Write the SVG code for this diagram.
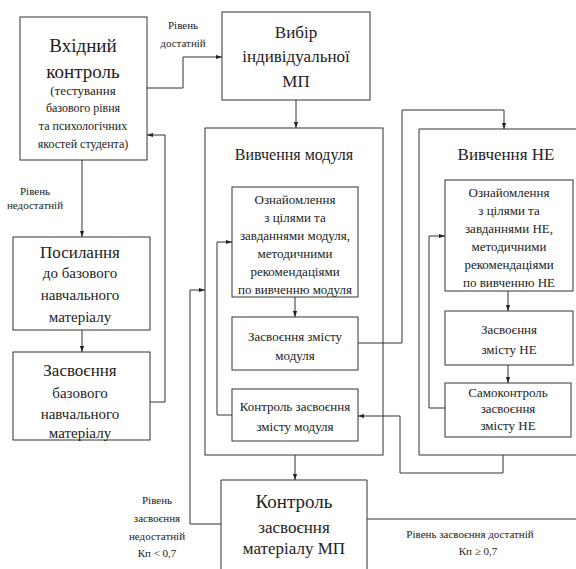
<svg xmlns="http://www.w3.org/2000/svg" width="576" height="569" viewBox="0 0 576 569" font-family="'Liberation Serif','DejaVu Serif','Times New Roman',serif">
<style>
.b{fill:none;stroke:#333;stroke-width:1}
.c{fill:none;stroke:#333;stroke-width:1}
text{font-family:'Liberation Serif','DejaVu Serif','Times New Roman',serif;fill:#222;text-anchor:middle}
.t13{font-size:13px}
.t12{font-size:12px}
.t11{font-size:11px}
.t15{font-size:15px}
.t16{font-size:16px}
.t17{font-size:17px}
.t19{font-size:19px}
</style>
<defs>
<marker id="a" viewBox="0 0 10 10" refX="10" refY="5" markerWidth="6" markerHeight="6" orient="auto" markerUnits="userSpaceOnUse">
<path d="M0,1.5 L10,5 L0,8.5 z" fill="#222"/>
</marker>
</defs>
<rect width="576" height="569" fill="#fff"/>

<g id="vkhidnyi">
<rect class="b" x="20" y="17" width="127" height="143"/>
<text class="t19" x="83" y="52">Вхідний</text>
<text class="t19" x="83" y="78">контроль</text>
<text class="t13" x="83" y="95">(тестування</text>
<text class="t12" x="83" y="112">базового рівня</text>
<text class="t12" x="83" y="130">та психологічних</text>
<text class="t12" x="83" y="148">якостей студента)</text>
</g>

<g id="vybir">
<rect class="b" x="222" y="12" width="148" height="88"/>
<text class="t17" x="296" y="38">Вибір</text>
<text class="t17" x="296" y="62">індивідуальної</text>
<text class="t17" x="296" y="87">МП</text>
</g>

<g id="posylannia">
<rect class="b" x="13" y="237" width="137" height="93"/>
<text class="t17" x="80" y="258">Посилання</text>
<text class="t15" x="80" y="278">до базового</text>
<text class="t15" x="80" y="300">навчального</text>
<text class="t15" x="80" y="322">матеріалу</text>
</g>

<g id="zasvoiennia-bazovoho">
<rect class="b" x="13" y="352" width="137" height="88"/>
<text class="t17" x="80" y="376">Засвоєння</text>
<text class="t15" x="80" y="398">базового</text>
<text class="t15" x="80" y="419">навчального</text>
<text class="t15" x="80" y="438">матеріалу</text>
</g>

<g id="vyvchennia-modulia">
<rect class="b" x="205" y="128" width="178" height="327"/>
<text class="t16" x="294" y="160">Вивчення модуля</text>
</g>

<g id="oznaiomlennia-modulia">
<rect class="b" x="232" y="187" width="126" height="110"/>
<text class="t13" x="295" y="204">Ознайомлення</text>
<text class="t13" x="295" y="222">з цілями та</text>
<text class="t13" x="295" y="240">завданнями модуля,</text>
<text class="t13" x="295" y="258">методичними</text>
<text class="t13" x="295" y="276">рекомендаціями</text>
<text class="t13" x="295" y="294">по вивченню модуля</text>
</g>

<g id="zasvoiennia-modulia">
<rect class="b" x="232" y="317" width="126" height="53"/>
<text class="t13" x="295" y="341">Засвоєння змісту</text>
<text class="t13" x="295" y="360">модуля</text>
</g>

<g id="kontrol-modulia">
<rect class="b" x="232" y="389" width="126" height="52"/>
<text class="t13" x="295" y="411">Контроль засвоєння</text>
<text class="t13" x="295" y="431">змісту модуля</text>
</g>

<g id="vyvchennia-ne">
<path class="b" d="M590 129 H419 V455 H590"/>
<text class="t17" x="506" y="160">Вивчення НЕ</text>
</g>

<g id="oznaiomlennia-ne">
<rect class="b" x="445" y="180" width="128" height="111"/>
<text class="t13" x="509" y="197">Ознайомлення</text>
<text class="t13" x="509" y="215">з цілями та</text>
<text class="t13" x="509" y="233">завданнями НЕ,</text>
<text class="t13" x="509" y="251">методичними</text>
<text class="t13" x="509" y="269">рекомендаціями</text>
<text class="t13" x="509" y="287">по вивченню НЕ</text>
</g>

<g id="zasvoiennia-ne">
<rect class="b" x="445" y="311" width="128" height="54"/>
<text class="t13" x="509" y="334">Засвоєння</text>
<text class="t13" x="509" y="354">змісту НЕ</text>
</g>

<g id="samokontrol-ne">
<rect class="b" x="445" y="383" width="126" height="54"/>
<text class="t13" x="508" y="397">Самоконтроль</text>
<text class="t13" x="508" y="413">засвоєння</text>
<text class="t13" x="508" y="430">змісту НЕ</text>
</g>

<g id="kontrol-mp">
<path class="b" d="M221 575 V480 H367 V575"/>
<text class="t19" x="294" y="508">Контроль</text>
<text class="t17" x="294" y="533">засвоєння</text>
<text class="t17" x="294" y="554">матеріалу МП</text>
</g>

<g id="connectors">
<path class="c" d="M147 88 H183 V57 H222" marker-end="url(#a)"/>
<path class="c" d="M82 160 V237" marker-end="url(#a)"/>
<path class="c" d="M82 330 V352" marker-end="url(#a)"/>
<path class="c" d="M150 402 H165 V135 H147" marker-end="url(#a)"/>
<path class="c" d="M296 100 V128" marker-end="url(#a)"/>
<path class="c" d="M295 297 V317" marker-end="url(#a)"/>
<path class="c" d="M232 415 H217 V242 H232" marker-end="url(#a)"/>
<path class="c" d="M358 343 H402 V110 H504 V129" marker-end="url(#a)"/>
<path class="c" d="M503 455 V473 H400 V416 H358" marker-end="url(#a)"/>
<path class="c" d="M508 291 V311" marker-end="url(#a)"/>
<path class="c" d="M508 365 V383" marker-end="url(#a)"/>
<path class="c" d="M445 408 H429 V236 H445" marker-end="url(#a)"/>
<path class="c" d="M295 455 V480" marker-end="url(#a)"/>
<path class="c" d="M221 524 H190 V290 H205" marker-end="url(#a)"/>
<path class="c" d="M367 519 H576"/>
<text class="t11" x="183" y="29">Рівень</text>
<text class="t11" x="183" y="47">достатній</text>
<text class="t11" x="35" y="195">Рівень</text>
<text class="t11" x="35" y="209">недостатній</text>
<text class="t11" x="157" y="504">Рівень</text>
<text class="t11" x="157" y="522">засвоєння</text>
<text class="t11" x="157" y="540">недостатній</text>
<text class="t11" x="157" y="557">Кп &lt; 0,7</text>
<text class="t11" x="470" y="538">Рівень засвоєння достатній</text>
<text class="t11" x="478" y="555">Кп ≥ 0,7</text>
</g>
</svg>
